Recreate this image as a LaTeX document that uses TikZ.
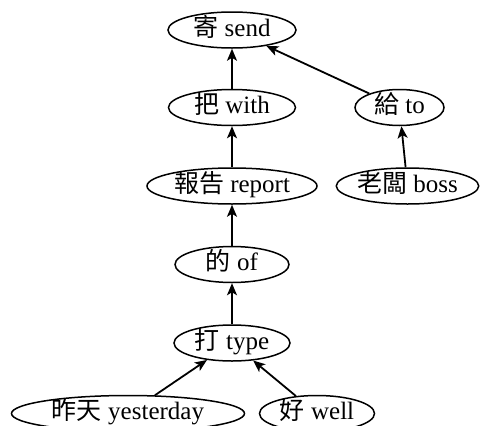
\documentclass[tikz,border=0pt]{standalone}
\usepackage{fontspec}
\setmainfont{Liberation Serif}
\newfontfamily\cjk{Noto Sans CJK TC}
\usetikzlibrary{arrows.meta,shapes.geometric,positioning}

\begin{document}
\begin{tikzpicture}[x=1pt,y=-1pt,
	word/.style={draw,ellipse,line width=1.5pt,inner sep=0pt,minimum height=36pt,text height=17pt,text depth=5pt,font=\fontsize{25}{28}\selectfont},
	link/.style={-{Stealth[length=12pt,width=10pt,inset=3pt]},line width=1.8pt}]
	\useasboundingbox (0,0) rectangle (485,426);
	\node[word,minimum width=128pt] (send) at (232,30) {{\cjk 寄} send};
	\node[word,minimum width=127pt,below=40pt of send] (with) {{\cjk 把} with};
	\node[word,minimum width=89pt,right=58pt of with] (to) {{\cjk 給} to};
	\node[word,minimum width=170pt,below=41pt of with] (report) {{\cjk 報告} report};
	\node[word,minimum width=142pt,below=41pt of to,xshift=8pt] (boss) {{\cjk 老闆} boss};
	\node[word,minimum width=114pt,below=41pt of report] (of) {{\cjk 的} of};
	\node[word,minimum width=116pt,below=41pt of of] (type) {{\cjk 打} type};
	\node[word,minimum width=233pt,below=33pt of type,xshift=-104pt] (yesterday) {{\cjk 昨天} yesterday};
	\node[word,minimum width=115pt,below=33pt of type,xshift=85pt] (well) {{\cjk 好} well};
	\draw[link] (with) -- (send);
	\draw[link] (to) -- (send);
	\draw[link] (report) -- (with);
	\draw[link] (boss) -- (to);
	\draw[link] (of) -- (report);
	\draw[link] (type) -- (of);
	\draw[link] (yesterday) -- (type);
	\draw[link] (well) -- (type);
\end{tikzpicture}
\end{document}
